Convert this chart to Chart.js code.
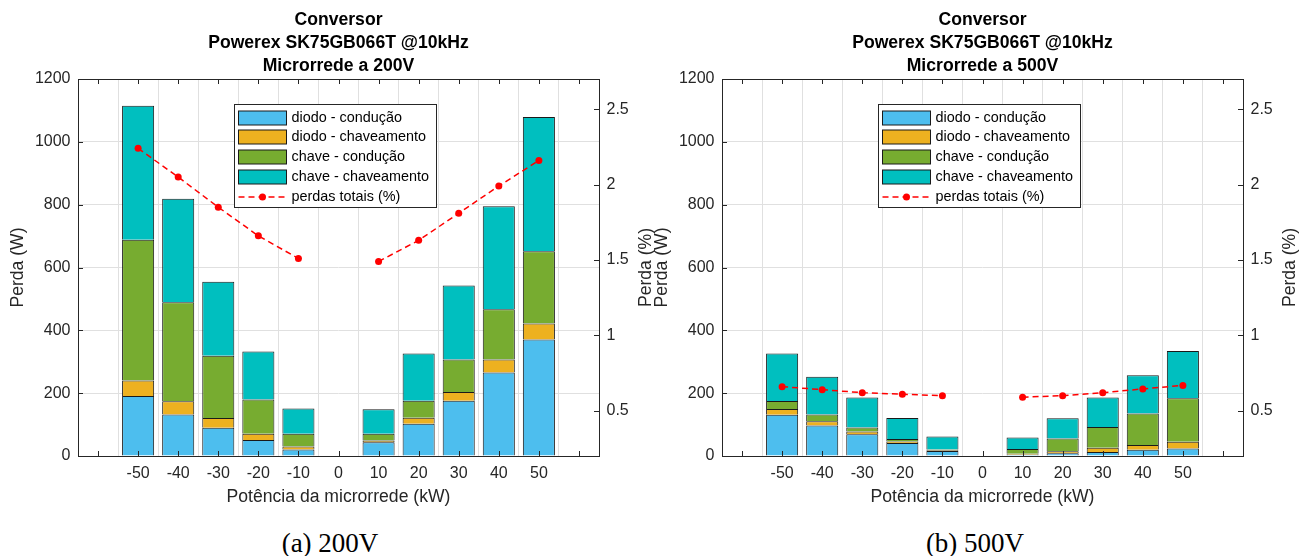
<!DOCTYPE html>
<html lang="pt">
<head>
<meta charset="utf-8">
<title>Perdas no conversor</title>
<script src="https://cdn.jsdelivr.net/npm/chart.js@4"></script>
<style>
  html, body { margin: 0; padding: 0; background: #fff; }
  #pagina { position: relative; width: 1311px; height: 556px; overflow: hidden; }
  canvas { position: absolute; top: 0; }
  #grafico200 { left: 0; }
  #grafico500 { left: 644px; }
  .rotulo { position: absolute; top: 528px; line-height: 30px; font: 27px "Liberation Serif", "Times New Roman", serif; color: #000; transform: translateX(-50%); white-space: nowrap; }
</style>
</head>
<body>
<div id="pagina">
  <canvas id="grafico200" width="667" height="520"></canvas>
  <canvas id="grafico500" width="667" height="520"></canvas>
  <div class="rotulo" style="left:330px">(a) 200V</div>
  <div class="rotulo" style="left:975px">(b) 500V</div>
</div>
<script>
// potência da microrrede (kW) e ticks
const potencia = [-50, -40, -30, -20, -10, 0, 10, 20, 30, 40, 50];
const ticksX = [-60, -50, -40, -30, -20, -10, 0, 10, 20, 30, 40, 50, 60];
const ticksW = [0, 200, 400, 600, 800, 1000, 1200];
const ticksPct = [0.5, 1, 1.5, 2, 2.5];

// microrrede a 200 V (W)
const diodoCond200 = [191, 132, 90, 51, 21, null, 44, 103, 176, 266, 371];
const diodoChav200 = [49, 42, 31, 20, 9, null, 5, 19, 28, 41, 51];
const chaveCond200 = [448, 315, 198, 109, 41, null, 22, 54, 103, 160, 230];
const chaveChav200 = [427, 330, 236, 153, 80, null, 78, 150, 236, 328, 427];
const perdas200 = [2.24, 2.05, 1.85, 1.66, 1.51, null, 1.49, 1.63, 1.81, 1.99, 2.16];

// microrrede a 500 V (W)
const diodoCond500 = [131, 97, 69, 41, 16, null, 4, 9, 13, 20, 24];
const diodoChav500 = [19, 14, 9, 5, 2, null, 3, 6, 13, 15, 21];
const chaveCond500 = [25, 21, 13, 8, 3, null, 15, 41, 66, 100, 139];
const chaveChav500 = [151, 120, 95, 67, 41, null, 37, 64, 94, 122, 150];
const perdas500 = [0.66, 0.64, 0.62, 0.61, 0.6, null, 0.59, 0.6, 0.62, 0.645, 0.668];

const fonte = "'Liberation Sans', Arial, Helvetica, sans-serif";
const corEixo = '#262626';
const corGrade = '#e0e0e0';
const corBorda = '#1a1a1a';
const cores = ['#4DBEEE', '#EDB120', '#77AC30', '#00BFBF'];

Chart.defaults.font.family = fonte;
Chart.defaults.color = corEixo;

// moldura estilo MATLAB: caixa, ticks para dentro, títulos e legenda
const moldura = {
  id: 'moldura',
  afterDatasetsDraw(chart) {
    const { ctx, chartArea: a, scales } = chart;
    const l = Math.round(a.left), r = Math.round(a.right), t = Math.round(a.top), b = Math.round(a.bottom);
    ctx.save();
    ctx.strokeStyle = corEixo;
    ctx.lineWidth = 1;
    ctx.beginPath();
    scales.x.ticks.forEach(tk => {
      const px = Math.round(scales.x.getPixelForValue(tk.value)) + 0.5;
      ctx.moveTo(px, b); ctx.lineTo(px, b - 5);
      ctx.moveTo(px, t); ctx.lineTo(px, t + 5);
    });
    scales.y.ticks.forEach(tk => {
      const py = Math.round(scales.y.getPixelForValue(tk.value)) + 0.5;
      ctx.moveTo(l, py); ctx.lineTo(l + 5, py);
    });
    scales.y2.ticks.forEach(tk => {
      const py = Math.round(scales.y2.getPixelForValue(tk.value)) + 0.5;
      ctx.moveTo(r, py); ctx.lineTo(r - 5, py);
    });
    ctx.stroke();
    ctx.strokeRect(l + 0.5, t + 0.5, r - l, b - t);
    ctx.restore();
  },
  afterDraw(chart, args, opts) {
    const { ctx, chartArea: a } = chart;
    const cx = (a.left + a.right) / 2;
    ctx.save();
    // título
    ctx.fillStyle = '#000';
    ctx.font = 'bold 17.6px ' + fonte;
    ctx.textAlign = 'center';
    ctx.textBaseline = 'middle';
    opts.titulo.forEach((linha, i) => ctx.fillText(linha, cx, 20 + i * 23));
    // título do eixo direito
    ctx.fillStyle = corEixo;
    ctx.font = '17.6px ' + fonte;
    ctx.translate(a.right + 47.5, (a.top + a.bottom) / 2);
    ctx.rotate(-Math.PI / 2);
    ctx.fillText('Perda (%)', 0, 0);
    ctx.setTransform(1, 0, 0, 1, 0, 0);

    // legenda
    const x0 = Math.round(a.left) + 156.5, y0 = 104.5, w = 202, h = 103;
    ctx.fillStyle = '#fff';
    ctx.fillRect(x0, y0, w, h);
    ctx.strokeStyle = corEixo;
    ctx.lineWidth = 1;
    ctx.strokeRect(x0, y0, w, h);
    ctx.font = '14.4px ' + fonte;
    ctx.textAlign = 'left';
    chart.data.datasets.forEach((ds, i) => {
      const cy = Math.round(y0 + 13 + i * 19.85);
      if (ds.type === 'line') {
        ctx.strokeStyle = ds.borderColor;
        ctx.lineWidth = 1.5;
        ctx.setLineDash([6, 4]);
        ctx.beginPath();
        ctx.moveTo(x0 + 4, cy); ctx.lineTo(x0 + 52, cy);
        ctx.stroke();
        ctx.setLineDash([]);
        ctx.fillStyle = ds.borderColor;
        ctx.beginPath();
        ctx.arc(x0 + 28, cy, 3.5, 0, Math.PI * 2);
        ctx.fill();
      } else {
        ctx.fillStyle = ds.backgroundColor;
        ctx.fillRect(x0 + 4, cy - 7, 48, 14);
        ctx.strokeStyle = corBorda;
        ctx.lineWidth = 1;
        ctx.strokeRect(x0 + 4, cy - 7, 48, 14);
      }
      ctx.fillStyle = '#000';
      ctx.fillText(ds.label, x0 + 57, cy + 0.5);
    });
    ctx.restore();
  }
};

function montarGrafico(id, tensao, diodoCond, diodoChav, chaveCond, chaveChav, perdas) {
  const pontos = serie => potencia.map((p, i) => ({ x: p, y: serie[i] }));
  const barra = (label, cor, serie) => ({
    type: 'bar',
    label: label,
    data: pontos(serie),
    backgroundColor: cor,
    borderColor: corBorda,
    borderWidth: { top: 1, left: 1, right: 1, bottom: 0 },
    borderSkipped: false,
    barPercentage: 0.8,
    categoryPercentage: 1,
    yAxisID: 'y',
    order: 1
  });
  new Chart(document.getElementById(id), {
    type: 'bar',
    data: {
      datasets: [
        barra('diodo - condução', cores[0], diodoCond),
        barra('diodo - chaveamento', cores[1], diodoChav),
        barra('chave - condução', cores[2], chaveCond),
        barra('chave - chaveamento', cores[3], chaveChav),
        {
          type: 'line',
          label: 'perdas totais (%)',
          data: pontos(perdas),
          yAxisID: 'y2',
          borderColor: '#ff0000',
          backgroundColor: '#ff0000',
          borderWidth: 1.5,
          borderDash: [6, 4],
          pointRadius: 3.5,
          pointBackgroundColor: '#ff0000',
          pointBorderColor: '#ff0000',
          pointBorderWidth: 0,
          spanGaps: false,
          tension: 0,
          order: 0
        }
      ]
    },
    options: {
      responsive: false,
      animation: false,
      layout: { padding: { top: 79, left: 0, right: 0, bottom: 0 } },
      plugins: {
        legend: { display: false },
        tooltip: { enabled: false },
        moldura: { titulo: ['Conversor', 'Powerex SK75GB066T @10kHz', 'Microrrede a ' + tensao] }
      },
      scales: {
        x: {
          type: 'linear',
          min: -60,
          max: 60,
          stacked: true,
          afterBuildTicks: s => { s.ticks = ticksX.map(v => ({ value: v })); },
          afterFit: s => { s.height = 64; },
          grid: { color: corGrade, drawTicks: false },
          border: { display: false },
          ticks: {
            padding: 7.5,
            font: { size: 16 },
            callback: v => (v === -60 || v === 60) ? '' : String(v)
          },
          title: { display: true, text: 'Potência da microrrede (kW)', font: { size: 17.6 }, padding: { top: 0, bottom: 12.5 } }
        },
        y: {
          position: 'left',
          min: 0,
          max: 1200,
          stacked: true,
          afterBuildTicks: s => { s.ticks = ticksW.map(v => ({ value: v })); },
          afterFit: s => { s.width = 78; },
          grid: { color: corGrade, drawTicks: false },
          border: { display: false },
          ticks: { padding: 7.5, font: { size: 16 }, callback: v => String(v) },
          title: { display: true, text: 'Perda (W)', font: { size: 17.6 }, padding: { top: 7.5, bottom: 0 } }
        },
        y2: {
          position: 'right',
          min: 0.2,
          max: 2.7,
          afterBuildTicks: s => { s.ticks = ticksPct.map(v => ({ value: v })); },
          afterFit: s => { s.width = 68; },
          grid: { display: false, drawTicks: false },
          border: { display: false },
          ticks: { padding: 7.5, font: { size: 16 }, callback: v => String(v) }
        }
      }
    },
    plugins: [moldura]
  });
}

montarGrafico('grafico200', '200V', diodoCond200, diodoChav200, chaveCond200, chaveChav200, perdas200);
montarGrafico('grafico500', '500V', diodoCond500, diodoChav500, chaveCond500, chaveChav500, perdas500);
</script>
</body>
</html>
